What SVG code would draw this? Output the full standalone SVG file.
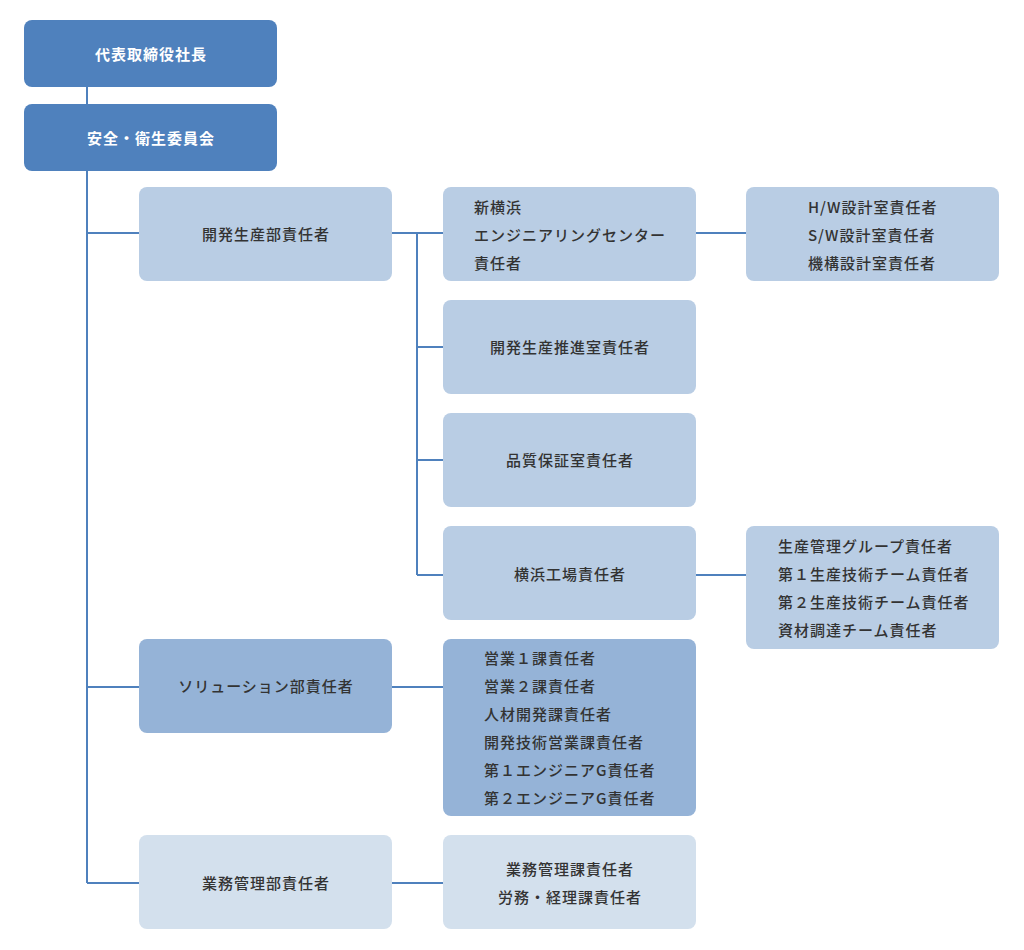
<svg xmlns="http://www.w3.org/2000/svg" width="1024" height="950" viewBox="0 0 1024 950">
<style>
.b0{fill:#4f81bd}
.b1{fill:#b9cde4}
.b2{fill:#95b3d7}
.b3{fill:#d3e0ed}
text{font-family:"Noto Sans CJK JP","Noto Sans",sans-serif;font-size:15px;font-weight:500;letter-spacing:1px;fill:#333;dominant-baseline:central}
.w{fill:#fff;font-weight:bold}
.c{text-anchor:middle}
.ln{stroke:#4f81bd;stroke-width:2;fill:none}
</style>
<rect width="1024" height="950" fill="#fff"/>
<g id="connectors">
<path class="ln" d="M87 87V104M87 171V883M87 233H139M87 687H139M87 883H139"/>
<path class="ln" d="M392 233H443M417 233V575M417 347H443M417 460H443M417 575H443"/>
<path class="ln" d="M696 233H746M696 575H746M392 687H443M392 883H443"/>
</g>
<g id="n1"><rect class="b0" x="24" y="20" width="253" height="67" rx="8"/><text class="w c" x="151" y="53">代表取締役社長</text></g>
<g id="n2"><rect class="b0" x="24" y="104" width="253" height="67" rx="8"/><text class="w c" x="151" y="137">安全・衛生委員会</text></g>
<g id="n3"><rect class="b1" x="139" y="187" width="253" height="94" rx="8"/><text class="c" x="266" y="233">開発生産部責任者</text></g>
<g id="n4"><rect class="b2" x="139" y="639" width="253" height="94" rx="8"/><text class="c" x="266" y="685">ソリューション部責任者</text></g>
<g id="n5"><rect class="b3" x="139" y="835" width="253" height="94" rx="8"/><text class="c" x="266" y="882">業務管理部責任者</text></g>
<g id="n6"><rect class="b1" x="443" y="187" width="253" height="94" rx="8"/><text x="474" y="206">新横浜</text><text x="474" y="234">エンジニアリングセンター</text><text x="474" y="262">責任者</text></g>
<g id="n7"><rect class="b1" x="443" y="300" width="253" height="94" rx="8"/><text class="c" x="570" y="346">開発生産推進室責任者</text></g>
<g id="n8"><rect class="b1" x="443" y="413" width="253" height="94" rx="8"/><text class="c" x="570" y="459">品質保証室責任者</text></g>
<g id="n9"><rect class="b1" x="443" y="526" width="253" height="94" rx="8"/><text class="c" x="570" y="573">横浜工場責任者</text></g>
<g id="n10"><rect class="b2" x="443" y="639" width="253" height="177" rx="8"/><text x="484" y="657">営業１課責任者</text><text x="484" y="685">営業２課責任者</text><text x="484" y="713">人材開発課責任者</text><text x="484" y="741">開発技術営業課責任者</text><text x="484" y="769">第１エンジニアG責任者</text><text x="484" y="797">第２エンジニアG責任者</text></g>
<g id="n11"><rect class="b3" x="443" y="835" width="253" height="94" rx="8"/><text class="c" x="570" y="868">業務管理課責任者</text><text class="c" x="570" y="896">労務・経理課責任者</text></g>
<g id="n12"><rect class="b1" x="746" y="187" width="253" height="94" rx="8"/><text x="808" y="206">H/W設計室責任者</text><text x="808" y="234">S/W設計室責任者</text><text x="808" y="262">機構設計室責任者</text></g>
<g id="n13"><rect class="b1" x="746" y="526" width="253" height="123" rx="8"/><text x="778" y="545">生産管理グループ責任者</text><text x="778" y="573">第１生産技術チーム責任者</text><text x="778" y="601">第２生産技術チーム責任者</text><text x="778" y="629">資材調達チーム責任者</text></g>
</svg>
